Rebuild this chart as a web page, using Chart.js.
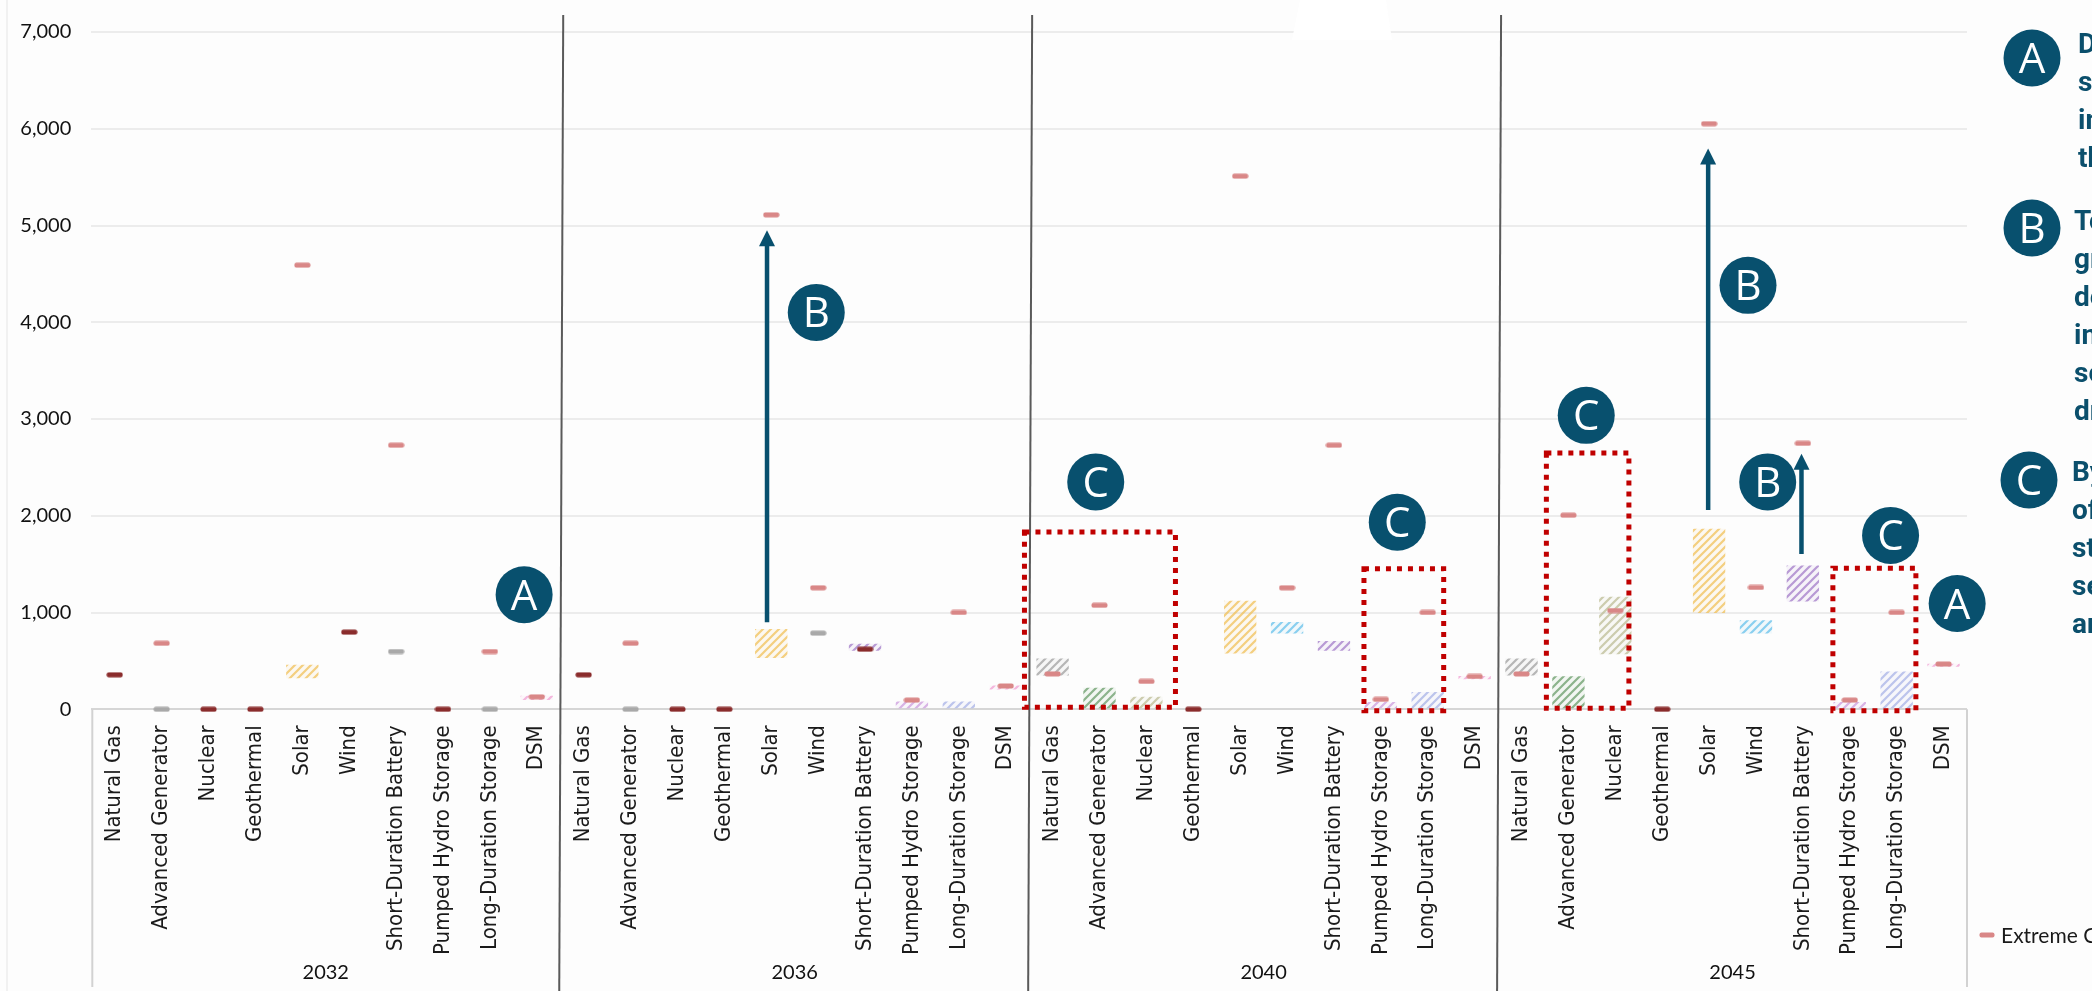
<!DOCTYPE html>
<html>
<head>
<meta charset="utf-8">
<script src="https://cdn.jsdelivr.net/npm/chart.js@4.4.1/dist/chart.umd.min.js"></script>
<style>
  html, body { margin: 0; padding: 0; background: #fdfdfd; overflow: hidden; }
  canvas { display: block; }
</style>
</head>
<body>
<canvas id="c" width="2092" height="991"></canvas>
<script>
// Resource types shown in each study year
const techs = ['Natural Gas', 'Advanced Generator', 'Nuclear', 'Geothermal', 'Solar', 'Wind',
  'Short-Duration Battery', 'Pumped Hydro Storage', 'Long-Duration Storage', 'DSM'];
const years = ['2032', '2036', '2040', '2045'];
const yTicks = [0, 1000, 2000, 3000, 4000, 5000, 6000, 7000];

// Range of additions (MW), low..high, per resource and year
const range2032 = [null, null, null, null, [320, 460], null, null, null, null, [95, 140]];
const range2036 = [null, null, null, null, [530, 831], null, [604, 678], [0, 80], [0, 80], [205, 245]];
const range2040 = [[349, 525], [0, 224], [0, 130], null, [576, 1123], [784, 902], [604, 706], [0, 75], [0, 180], [310, 345]];
const range2045 = [[349, 525], [0, 342], [570, 1164], null, [994, 1866], [784, 920], [1113, 1487], [0, 75], [0, 390], [440, 470]];

// Extreme Cold portfolio (MW)
const cold2032 = [null, 682, null, null, 4590, null, 2729, null, 597, 129];
const cold2036 = [null, 682, null, null, 5110, 1256, null, 95, 1001, 241];
const cold2040 = [366, 1075, 288, null, 5510, 1256, 2729, 102, 1001, 339];
const cold2045 = [366, 2006, 1021, null, 6052, 1259, 2749, 95, 1001, 468];

// Base portfolio (MW)
const base2032 = [357, null, 0, 0, null, 797, null, 0, null, null];
const base2036 = [357, null, 0, 0, null, null, 621, null, null, null];
const base2040 = [null, null, null, 0, null, null, null, null, null, null];
const base2045 = [null, null, null, 0, null, null, null, null, null, null];

// Existing / committed (MW)
const exist2032 = [null, 0, null, null, null, null, 597, null, 0, null];
const exist2036 = [null, 0, null, null, null, 787, null, null, null, null];
const exist2040 = [null, null, null, null, null, null, null, null, null, null];
const exist2045 = [null, null, null, null, null, null, null, null, null, null];

// Hatch colour per resource type
const techColors = ['#9a9a9a', '#5f965f', '#b9b98f', '#b04a4a', '#f0be4e', '#5cbde9',
  '#9c74c4', '#c995dc', '#a3aee6', '#f09ad0'];

// Call-out markers: [label, category index, MW]
const calloutCircles = [
  ['A', 8.73, 1184], ['B', 14.96, 4102], ['C', 20.92, 2350], ['C', 27.35, 1933],
  ['C', 31.38, 3038], ['B', 34.83, 4382], ['B', 35.25, 2350], ['C', 37.87, 1797], ['A', 39.29, 1093]
];
// Arrows: [category index, from MW, to MW]
const calloutArrows = [[13.91, 900, 4950], [33.98, 2060, 5796], [35.97, 1605, 2640]];
// Dotted boxes: [left index, right index, bottom MW, top MW]
const calloutBoxes = [[19.4, 22.62, 20, 1833], [26.64, 28.34, -14, 1452], [30.53, 32.29, 10, 2648], [36.64, 38.41, -14, 1459]];

// Side notes
const notes = [
  { tag: 'A', cx: 2032, cy: 58, x: 2078, base: 53, lines: ['Demand-side', 'solutions', 'increase over', 'the years'] },
  { tag: 'B', cx: 2032, cy: 228, x: 2074, base: 230, lines: ['To meet', 'growing', 'demand,', 'installed', 'solar grows', 'dramatically'] },
  { tag: 'C', cx: 2029, cy: 480, x: 2072, base: 481, lines: ['By 2045, much', 'of the new', 'storage is', 'seasonal', 'and long-duration'] }
];

const categories = years.flatMap(() => techs);
const ranges = [].concat(range2032, range2036, range2040, range2045);
const cold = [].concat(cold2032, cold2036, cold2040, cold2045);
const base = [].concat(base2032, base2036, base2040, base2045);
const exist = [].concat(exist2032, exist2036, exist2040, exist2045);

function rgba(hex, a) {
  const n = parseInt(hex.slice(1), 16);
  return `rgba(${n >> 16},${(n >> 8) & 255},${n & 255},${a})`;
}
function hatch(color) {
  const s = 8;
  const c = document.createElement('canvas');
  c.width = s; c.height = s;
  const g = c.getContext('2d');
  g.fillStyle = rgba(color, 0.07);
  g.fillRect(0, 0, s, s);
  g.strokeStyle = rgba(color, 0.7);
  g.lineWidth = 2.2;
  g.beginPath();
  g.moveTo(-2, s + 2); g.lineTo(s + 2, -2);
  g.moveTo(-2, 2); g.lineTo(2, -2);
  g.moveTo(s - 2, s + 2); g.lineTo(s + 2, s - 2);
  g.stroke();
  return g.createPattern(c, 'repeat');
}
function dash(color, w, h) {
  const c = document.createElement('canvas');
  c.width = w; c.height = h;
  const g = c.getContext('2d');
  g.fillStyle = color;
  g.beginPath();
  g.roundRect(0.5, 0.5, w - 1, h - 1, 2);
  g.fill();
  return c;
}

const COLD = '#d98787', BASE = '#8a2c2c', EXIST = '#a9a9a9', TEAL = '#08506e';
const barFills = categories.map((_, i) => hatch(techColors[i % techs.length]));

const overlay = {
  id: 'overlay',
  beforeDraw(chart) {
    const { ctx, width, height } = chart;
    ctx.save();
    ctx.fillStyle = '#fdfdfd';
    ctx.fillRect(0, 0, width, height);
    ctx.strokeStyle = '#ececec';
    ctx.lineWidth = 1.5;
    ctx.beginPath(); ctx.moveTo(7, 0); ctx.lineTo(7, height); ctx.stroke();
    ctx.restore();
  },
  afterDatasetsDraw(chart) {
    const { ctx, scales: { x, y }, chartArea: a } = chart;
    const px = i => x.getPixelForValue(i);
    const py = v => y.getPixelForValue(v);
    ctx.save();

    // white patch over top edge
    ctx.fillStyle = '#ffffff';
    ctx.beginPath();
    ctx.moveTo(1300, 0); ctx.lineTo(1386, 0); ctx.lineTo(1392, 40); ctx.lineTo(1292, 40);
    ctx.closePath(); ctx.fill();

    // category label frame
    ctx.strokeStyle = '#d2d2d2';
    ctx.lineWidth = 2;
    ctx.beginPath();
    ctx.moveTo(a.left + 1, a.bottom); ctx.lineTo(a.left + 1, 987);
    ctx.moveTo(a.right, a.bottom); ctx.lineTo(a.right, 987);
    ctx.stroke();

    // year dividers
    ctx.strokeStyle = '#5a5a5a';
    ctx.lineWidth = 2;
    for (let g = 1; g < years.length; g++) {
      const xx = (px(g * techs.length - 1) + px(g * techs.length)) / 2;
      ctx.beginPath(); ctx.moveTo(xx + 3, 15); ctx.lineTo(xx - 1, 991); ctx.stroke();
    }

    // dotted boxes
    ctx.strokeStyle = '#c00000';
    ctx.lineWidth = 5;
    ctx.setLineDash([5, 6]);
    calloutBoxes.forEach(([l, r, lo, hi]) => {
      ctx.strokeRect(px(l), py(hi), px(r) - px(l), py(lo) - py(hi));
    });
    ctx.setLineDash([]);

    // arrows
    ctx.strokeStyle = TEAL;
    ctx.fillStyle = TEAL;
    ctx.lineWidth = 4.5;
    calloutArrows.forEach(([i, from, to]) => {
      const xx = px(i), y0 = py(from), y1 = py(to), head = 16;
      ctx.beginPath(); ctx.moveTo(xx, y0); ctx.lineTo(xx, y1 + head - 2); ctx.stroke();
      ctx.beginPath();
      ctx.moveTo(xx, y1); ctx.lineTo(xx - 8, y1 + head); ctx.lineTo(xx + 8, y1 + head);
      ctx.closePath(); ctx.fill();
    });

    // lettered circles
    calloutCircles.forEach(([t, i, v]) => drawBadge(ctx, px(i), py(v), t));
    ctx.restore();
  },
  afterDraw(chart) {
    const { ctx } = chart;
    ctx.save();
    notes.forEach(n => {
      drawBadge(ctx, n.cx, n.cy, n.tag);
      ctx.fillStyle = '#0b4f6c';
      ctx.font = 'bold 28px Roboto';
      ctx.textAlign = 'left';
      ctx.textBaseline = 'alphabetic';
      n.lines.forEach((s, k) => ctx.fillText(s, n.x, n.base + k * 38));
    });
    // legend
    ctx.drawImage(dash(COLD, 16, 6), 1979, 932);
    ctx.fillStyle = '#1a1a1a';
    ctx.font = '21px Lato';
    ctx.textAlign = 'left';
    ctx.textBaseline = 'alphabetic';
    ctx.fillText('Extreme Cold', 2001, 943);
    ctx.restore();
  }
};

function drawBadge(ctx, cx, cy, t) {
  ctx.save();
  ctx.fillStyle = TEAL;
  ctx.beginPath(); ctx.arc(cx, cy, 28.5, 0, Math.PI * 2); ctx.fill();
  ctx.fillStyle = '#ffffff';
  ctx.font = '42px "Open Sans"';
  ctx.textAlign = 'center';
  ctx.textBaseline = 'alphabetic';
  ctx.fillText(t, cx, cy + 15);
  ctx.restore();
}

new Chart(document.getElementById('c'), {
  type: 'bar',
  data: {
    labels: categories,
    datasets: [
      { label: 'Extreme Cold', type: 'line', data: cold, showLine: false, clip: false, order: 1,
        pointStyle: dash(COLD, 17, 6), pointRadius: 8 },
      { label: 'Base', type: 'line', data: base, showLine: false, clip: false, order: 2,
        pointStyle: dash(BASE, 17, 6), pointRadius: 8 },
      { label: 'Existing', type: 'line', data: exist, showLine: false, clip: false, order: 3,
        pointStyle: dash(EXIST, 17, 6), pointRadius: 8 },
      { label: 'Range', data: ranges, backgroundColor: barFills, borderWidth: 0, order: 4,
        barPercentage: 0.69, categoryPercentage: 1 }
    ]
  },
  options: {
    responsive: false,
    devicePixelRatio: 1,
    animation: false,
    events: [],
    layout: { padding: { top: 22, right: 125, left: 0, bottom: 0 } },
    plugins: { legend: { display: false }, tooltip: { enabled: false } },
    scales: {
      x: {
        type: 'category', offset: true, weight: 0,
        grid: { display: false, drawTicks: false }, border: { display: false },
        ticks: { autoSkip: false, minRotation: 90, maxRotation: 90, padding: 16, color: '#1a1a1a',
          font: { family: '"DejaVu Sans Condensed", "DejaVu Sans"', size: 22 } },
        afterFit: s => { s.height = 254; }
      },
      x2: {
        type: 'category', labels: years, offset: true, position: 'bottom', weight: 1,
        grid: { display: false, drawTicks: false }, border: { display: false },
        ticks: { padding: -3, color: '#111', font: { family: 'Lato', size: 20 } },
        afterFit: s => { s.height = 27.7; }
      },
      y: {
        min: 0, max: 7000,
        afterBuildTicks: s => { s.ticks = yTicks.map(v => ({ value: v })); },
        grid: { color: c => (c.tick && c.tick.value === 0 ? '#d6d6d6' : '#ececec'), lineWidth: 2, drawTicks: false },
        border: { display: false },
        ticks: { padding: 20, color: '#111', font: { family: 'Lato', size: 20 },
          callback: v => v.toLocaleString('en-US') },
        afterFit: s => { s.width = 91.3; }
      }
    }
  },
  plugins: [overlay]
});
</script>
</body>
</html>
